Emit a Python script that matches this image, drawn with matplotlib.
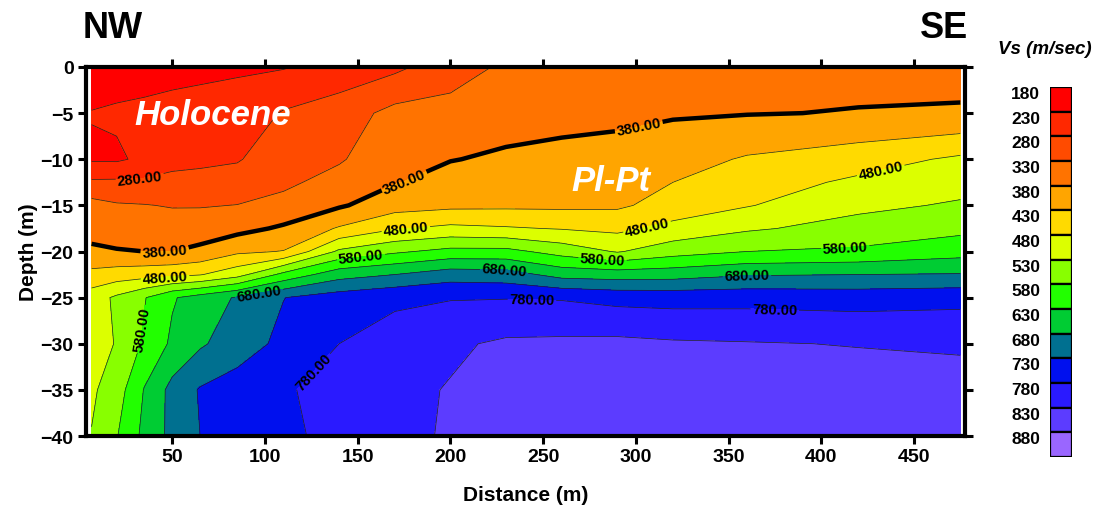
import matplotlib
matplotlib.use("Agg")
import matplotlib.pyplot as plt
import numpy as np

plt.rcParams['font.family'] = ['Liberation Sans', 'DejaVu Sans']
plt.rcParams['font.weight'] = 'bold'
plt.rcParams['axes.labelweight'] = 'bold'

# grid nodes of the Vs section
distance = [6.5, 20, 35, 50, 65, 85, 110, 140, 170, 200, 230, 260, 290, 320, 360, 420, 475]
depth = [0, -5, -10, -12.5, -15, -17.5, -20, -22.5, -25, -30, -35, -40]

# Vs (m/sec) at each distance node, listed from surface down
vs_columns = [
    [200, 232, 224, 288, 348, 368, 386, 445, 505, 515, 522, 532],   # 6.5
    [205, 237, 223, 289, 335, 358, 383, 454, 539, 532, 556, 577],   # 20
    [211, 240, 240, 289, 332, 356, 380, 460, 577, 588, 633, 643],   # 35
    [217, 243, 270, 289, 327, 353, 380, 467, 625, 639, 696, 694],   # 50
    [220, 246, 272, 292, 327, 355, 391, 477, 652, 673, 734, 730],   # 65
    [224, 250, 276, 301, 331, 365, 421, 511, 685, 706, 752, 748],   # 85
    [227, 284, 309, 321, 344, 387, 432, 594, 729, 742, 775, 770],   # 110
    [248, 305, 325, 347, 374, 435, 539, 660, 754, 780, 796, 794],   # 140
    [269, 345, 363, 377, 409, 476, 572, 680, 771, 801, 817, 815],   # 170
    [308, 347, 378, 400, 418, 492, 595, 707, 777, 822, 833, 836],   # 200
    [338, 358, 388, 406, 420, 485, 595, 702, 778, 838, 850, 855],   # 230
    [345, 363, 395, 410, 420, 477, 560, 662, 776, 840, 857, 862],   # 260
    [350, 368, 399, 412, 422, 468, 526, 656, 765, 842, 860, 865],   # 290
    [355, 375, 410, 430, 450, 495, 559, 659, 762, 836, 858, 864],   # 320
    [359, 378, 435, 455, 477, 523, 580, 676, 763, 833, 855, 862],   # 360
    [366, 382, 457, 490, 518, 549, 588, 680, 759, 828, 852, 860],   # 420
    [370, 383, 489, 512, 536, 567, 610, 683, 765, 824, 848, 856],   # 475
]

vs_levels = [180, 230, 280, 330, 380, 430, 480, 530, 580, 630, 680, 730, 780, 830, 880, 930]
vs_colours = ['#FF0000', '#FF2800', '#FF4B00', '#FF7300', '#FFA500', '#FFDA00', '#DCFF00', '#88FF00',
              '#22FF00', '#00CC33', '#007090', '#0010EE', '#2A1AFF', '#5C3CFF', '#9A66FF']

# where the contour values are written
label_spots = {
    280: [(32.6, -12.2)],
    380: [(46, -20), (175.5, -12.6), (302, -6.9)],
    480: [(46, -22.4), (176, -17.7), (306.5, -17.7), (431.5, -10.7)],
    580: [(32.6, -28.4), (152, -21), (282, -21), (413, -20)],
    680: [(97, -24.8), (229, -22.2), (360, -22.9)],
    780: [(126, -33), (244, -25), (375, -25.7)],
}

Z = np.array(vs_columns).T

fig = plt.figure(figsize=(10.97, 5.06), dpi=100)
ax = fig.add_axes([86/1097, 1-437/506, 879/1097, 369/506])

ax.contourf(distance, depth, Z, levels=vs_levels, colors=vs_colours)
for lev in vs_levels[1:-1]:
    if lev == 380:
        cs = ax.contour(distance, depth, Z, levels=[lev], colors='k', linewidths=3.2)
    else:
        cs = ax.contour(distance, depth, Z, levels=[lev], colors='#222222', linewidths=0.5)
    if lev in label_spots:
        ax.clabel(cs, fmt='%.2f', manual=label_spots[lev], inline=True, inline_spacing=2,
                  fontsize=10.5, colors='k')

ax.set_xlim(3.5, 477.5)
ax.set_ylim(-40, 0)
ax.set_xticks([50, 100, 150, 200, 250, 300, 350, 400, 450])
ax.set_yticks([0, -5, -10, -15, -20, -25, -30, -35, -40])
ax.tick_params(direction='out', length=6, width=2.2, labelsize=14, pad=3,
               top=True, right=True)
for s in ax.spines.values():
    s.set_linewidth(3)
ax.set_xlabel('Distance (m)', fontsize=15, labelpad=14)
ax.set_ylabel('Depth (m)', fontsize=15, labelpad=2)

ax.text(72, -5.2, 'Holocene', color='white', fontsize=25, style='italic', ha='center', va='center')
ax.text(286.5, -12.3, 'Pl-Pt', color='white', fontsize=25, style='italic', ha='center', va='center')

fig.text(83/1097, 1-29/506, 'NW', fontsize=26, ha='left', va='center')
fig.text(968/1097, 1-29/506, 'SE', fontsize=26, ha='right', va='center')

# colour key
cax = fig.add_axes([1050/1097, 1-458/506, 22/1097, 370/506])
n = len(vs_colours)
cax.barh(range(n), [1]*n, height=1, color=vs_colours, edgecolor='k', linewidth=1.6)
cax.set_xlim(0, 1)
cax.set_ylim(n - 0.5, -0.5)
cax.set_xticks([])
cax.set_yticks([i - 0.3 for i in range(n)])
cax.set_yticklabels([str(v) for v in vs_levels[:-1]], fontsize=12.5)
cax.tick_params(length=0, pad=7)
for s in cax.spines.values():
    s.set_visible(False)
fig.text(1045/1097, 1-50/506, 'Vs (m/sec)', fontsize=13.5, style='italic', ha='center', va='center')

fig.savefig('out.png', dpi=100)
